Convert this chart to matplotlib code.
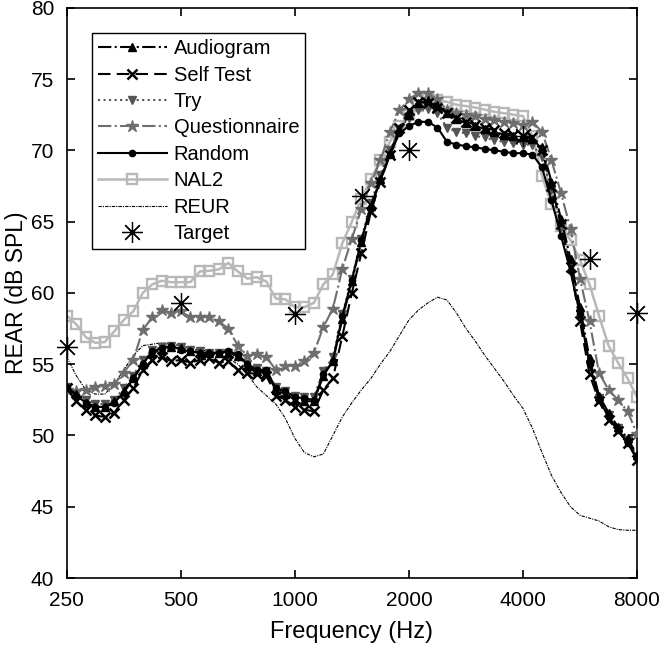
import numpy as np
import matplotlib
matplotlib.use("Agg")
import matplotlib.pyplot as plt

plt.rcParams['font.family'] = ['Liberation Sans', 'DejaVu Sans']

# 1/12-octave analysis grid, 250 Hz .. 8000 Hz
freqs = 250 * 2 ** (np.arange(61) / 12)

audiogram = [53.4, 52.9, 52.3, 52.0, 52.0, 52.4, 53.1, 54.0, 55.0, 55.8,
             56.0, 56.2, 56.1, 55.9, 55.8, 55.8, 55.8, 55.8, 55.6, 54.9,
             54.5, 54.4, 53.2, 52.9, 52.5, 52.4, 52.4, 54.2, 55.2, 58.2,
             60.8, 63.6, 66.1, 68.0, 69.8, 71.5, 72.5, 73.3, 73.5, 73.2,
             72.6, 72.2, 71.9, 71.7, 71.5, 71.3, 71.1, 71.0, 70.9, 70.8,
             70.2, 67.8, 65.2, 62.4, 59.0, 55.4, 52.8, 51.6, 50.6, 49.8, 48.6]

self_test = [53.3, 52.4, 51.8, 51.4, 51.3, 51.6, 52.5, 53.3, 54.6, 55.3,
             55.5, 55.2, 55.3, 55.1, 55.3, 55.4, 55.1, 55.2, 54.6, 54.4,
             54.3, 54.2, 52.8, 52.5, 52.0, 51.8, 51.7, 53.2, 54.0, 57.0,
             60.0, 62.8, 65.7, 67.8, 69.7, 71.6, 72.8, 73.4, 73.3, 73.0,
             72.6, 72.3, 72.0, 71.8, 71.6, 71.4, 71.2, 71.1, 71.0, 70.9,
             70.0, 67.5, 64.8, 61.8, 58.0, 54.3, 52.4, 51.1, 50.3, 49.5, 48.3]

try_ = [53.4, 53.0, 52.5, 52.2, 52.2, 52.5, 53.3, 54.2, 55.3, 56.0,
        56.2, 56.3, 56.2, 56.0, 55.9, 55.8, 55.8, 55.8, 55.5, 55.0,
        54.7, 54.5, 53.4, 53.1, 52.8, 52.7, 52.7, 54.5, 55.5, 58.5,
        61.0, 63.8, 66.3, 68.3, 70.0, 71.5, 72.3, 72.8, 72.9, 72.6,
        71.6, 71.3, 71.2, 71.0, 70.9, 70.7, 70.6, 70.5, 70.4, 70.4,
        69.5, 67.2, 64.6, 61.8, 58.5, 55.0, 52.6, 51.4, 50.5, 49.7, 48.5]

questionnaire = [53.2, 53.1, 53.2, 53.4, 53.5, 53.6, 54.4, 55.3, 57.4, 58.3,
                 58.8, 58.6, 58.7, 58.3, 58.3, 58.3, 58.0, 57.5, 56.3, 55.6,
                 55.7, 55.5, 54.6, 54.9, 54.9, 55.2, 55.8, 57.6, 58.9, 61.7,
                 63.8, 65.9, 67.7, 69.3, 71.3, 72.8, 73.6, 74.0, 74.0, 73.6,
                 72.8, 72.6, 72.5, 72.4, 72.2, 72.1, 72.0, 71.9, 71.8, 72.0,
                 71.3, 69.3, 67.0, 64.5, 61.0, 58.0, 54.4, 53.2, 52.5, 51.7, 50.1]

random_ = [53.3, 52.8, 52.3, 52.0, 52.0, 52.3, 53.0, 54.0, 55.0, 55.9,
           56.1, 56.3, 56.0, 55.9, 55.8, 55.8, 55.8, 55.9, 55.7, 55.0,
           54.6, 54.6, 53.3, 53.1, 52.7, 52.6, 52.5, 54.3, 55.2, 58.4,
           60.9, 63.7, 66.0, 67.9, 69.7, 71.2, 71.7, 72.0, 72.0, 71.6,
           70.6, 70.4, 70.3, 70.2, 70.1, 70.0, 69.9, 69.8, 69.8, 69.7,
           68.8, 66.5, 64.0, 61.5, 58.5, 55.0, 52.5, 51.3, 50.4, 49.5, 48.4]

nal2 = [58.4, 57.8, 56.9, 56.5, 56.55, 57.3, 58.1, 58.7, 60.0, 60.6,
        60.85, 60.75, 60.75, 60.75, 61.5, 61.55, 61.65, 62.1, 61.5, 61.0,
        61.1, 60.8, 59.6, 59.55, 59.0, 59.0, 59.3, 60.6, 61.3, 63.5,
        65.0, 66.6, 68.0, 69.3, 70.6, 71.7, 72.5, 73.1, 73.6, 73.5,
        73.4, 73.2, 73.1, 73.0, 72.85, 72.7, 72.6, 72.5, 72.4, 71.0,
        68.2, 66.2, 64.7, 63.7, 62.3, 60.6, 58.4, 56.3, 55.1, 54.0, 52.7]

reur = [55.5, 54.2, 53.2, 52.9, 52.9, 53.6, 54.6, 55.6, 56.3, 56.4,
        56.5, 56.4, 56.3, 56.1, 56.0, 55.9, 55.7, 55.4, 55.0, 54.3,
        53.4, 52.8, 52.2, 51.2, 49.8, 48.8, 48.5, 48.7, 50.0, 51.3,
        52.3, 53.2, 54.0, 55.0, 55.9, 57.0, 58.1, 58.8, 59.3, 59.7,
        59.5, 58.6, 57.5, 56.6, 55.6, 54.7, 53.8, 52.8, 51.9, 50.5,
        48.8, 47.2, 46.0, 45.0, 44.4, 44.2, 44.0, 43.6, 43.4, 43.35, 43.35]

target_freqs = [250, 500, 1000, 1500, 2000, 4000, 6000, 8000]
target_vals = [56.2, 59.3, 58.5, 66.8, 70.0, 71.0, 62.4, 58.6]

xtick_vals = [250, 500, 1000, 2000, 4000, 8000]
xtick_labels = ['250', '500', '1000', '2000', '4000', '8000']
ytick_vals = [40, 45, 50, 55, 60, 65, 70, 75, 80]

fig = plt.figure(figsize=(6.64, 6.51), dpi=100)
ax = fig.add_axes([0.1005, 0.1121, 0.8589, 0.8760])

FS = 15
ax.plot(freqs, audiogram, color='black', ls='-.', lw=1.5, marker='^', ms=5.5,
        label='Audiogram', zorder=4)
ax.plot(freqs, self_test, color='black', ls=(0, (6, 3)), lw=1.5, marker='x', ms=7.5,
        mew=1.8, label='Self Test', zorder=4)
ax.plot(freqs, try_, color='#555555', ls=':', lw=1.5, marker='v', ms=6,
        label='Try', zorder=3)
ax.plot(freqs, questionnaire, color='#6e6e6e', ls='-.', lw=1.5, marker='*', ms=9,
        label='Questionnaire', zorder=3)
ax.plot(freqs, random_, color='black', ls='-', lw=1.5, marker='o', ms=4.5,
        label='Random', zorder=5)
ax.plot(freqs, nal2, color='#b8b8b8', ls='-', lw=1.8, marker='s', ms=6.5,
        mfc='none', mew=1.7, label='NAL2', zorder=2)
ax.plot(freqs, reur, color='black', ls=(0, (3, 1, 1, 1)), lw=0.8,
        label='REUR', zorder=2)
ax.plot(target_freqs, target_vals, ls='none', color='black', marker=(8, 2, 0),
        ms=15, mew=0.9, label='Target', zorder=6, clip_on=False)

ax.set_xscale('log')
ax.set_xlim(250, 8000)
ax.set_ylim(40, 80)
ax.set_xticks(xtick_vals)
ax.set_xticklabels(xtick_labels)
ax.xaxis.set_minor_locator(matplotlib.ticker.NullLocator())
ax.set_yticks(ytick_vals)
ax.tick_params(direction='in', top=True, right=True, labelsize=FS, length=6,
               width=1.2, pad=9, colors='black')
for s in ax.spines.values():
    s.set_linewidth(1.2)
ax.set_xlabel('Frequency (Hz)', fontsize=17, labelpad=8)
ax.set_ylabel('REAR (dB SPL)', fontsize=16.5, labelpad=2)

leg = ax.legend(loc='upper left', bbox_to_anchor=(0.0444, 0.9556),
                borderaxespad=0, fontsize=14.5, frameon=True, fancybox=False,
                edgecolor='black', framealpha=1, handlelength=3.4,
                handletextpad=0.35, labelspacing=0.37, borderpad=0.3,
                numpoints=1)
leg.get_frame().set_linewidth(1.0)

fig.savefig('out.png', dpi=100)
